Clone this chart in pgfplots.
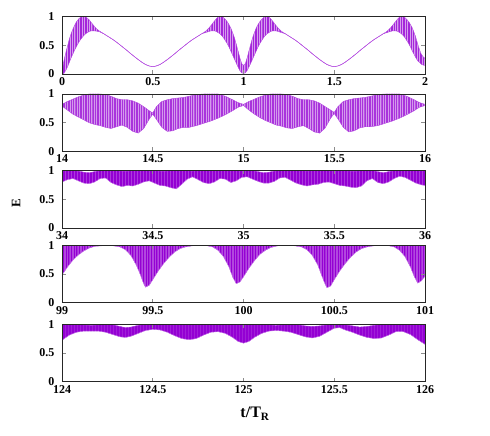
\documentclass[border=0pt]{standalone}
\usepackage{fontspec}
\setmainfont{Liberation Serif}
\usepackage{pgfplots}
\pgfplotsset{compat=1.18}
\usepackage{pgfplotstable}
\usepgfplotslibrary{fillbetween}
\usetikzlibrary{patterns.meta}
\definecolor{dv}{RGB}{148,0,211}

% envelopes (upper / lower) of the fast oscillation
\pgfplotstableread{
x up lo
0.00 0.00 0.00
0.01 0.22 0.01
0.02 0.36 0.06
0.03 0.48 0.12
0.04 0.60 0.20
0.05 0.70 0.28
0.06 0.78 0.35
0.07 0.85 0.42
0.08 0.91 0.48
0.09 0.95 0.54
0.10 0.98 0.59
0.11 1.00 0.63
0.12 1.00 0.67
0.13 0.99 0.70
0.14 0.97 0.72
0.15 0.94 0.74
0.16 0.90 0.75
0.17 0.86 0.75
0.18 0.82 0.75
0.19 0.79 0.745
0.20 0.76 0.74
0.21 0.74 0.73
0.22 0.72 0.715
0.23 0.70 0.70
0.25 0.66 0.66
0.28 0.60 0.60
0.30 0.555 0.555
0.33 0.48 0.48
0.35 0.43 0.43
0.38 0.35 0.35
0.40 0.30 0.30
0.42 0.25 0.25
0.44 0.205 0.205
0.46 0.165 0.165
0.48 0.14 0.14
0.50 0.128 0.128
0.52 0.14 0.14
0.54 0.165 0.165
0.56 0.205 0.205
0.58 0.25 0.25
0.60 0.30 0.30
0.62 0.35 0.35
0.65 0.43 0.43
0.67 0.48 0.48
0.70 0.555 0.555
0.72 0.60 0.60
0.75 0.66 0.66
0.77 0.70 0.70
0.78 0.72 0.71
0.79 0.74 0.72
0.80 0.77 0.73
0.81 0.80 0.74
0.82 0.84 0.75
0.83 0.88 0.75
0.84 0.92 0.75
0.85 0.96 0.74
0.86 0.99 0.72
0.87 1.00 0.70
0.88 1.00 0.67
0.89 0.98 0.63
0.90 0.95 0.58
0.91 0.91 0.53
0.92 0.86 0.47
0.93 0.80 0.40
0.94 0.72 0.33
0.95 0.63 0.26
0.96 0.52 0.19
0.97 0.40 0.12
0.98 0.28 0.06
0.99 0.18 0.02
1.00 0.15 0.01
1.01 0.18 0.02
1.02 0.28 0.06
1.03 0.40 0.12
1.04 0.52 0.19
1.05 0.63 0.26
1.06 0.72 0.33
1.07 0.80 0.40
1.08 0.86 0.47
1.09 0.91 0.53
1.10 0.95 0.58
1.11 0.98 0.63
1.12 1.00 0.67
1.13 1.00 0.70
1.14 0.99 0.72
1.15 0.96 0.74
1.16 0.92 0.75
1.17 0.88 0.75
1.18 0.84 0.75
1.19 0.80 0.74
1.20 0.77 0.73
1.21 0.74 0.72
1.22 0.72 0.71
1.23 0.70 0.70
1.25 0.66 0.66
1.28 0.60 0.60
1.30 0.555 0.555
1.33 0.48 0.48
1.35 0.43 0.43
1.38 0.35 0.35
1.40 0.30 0.30
1.42 0.25 0.25
1.44 0.205 0.205
1.46 0.165 0.165
1.48 0.14 0.14
1.50 0.128 0.128
1.52 0.14 0.14
1.54 0.165 0.165
1.56 0.205 0.205
1.58 0.25 0.25
1.60 0.30 0.30
1.62 0.35 0.35
1.65 0.43 0.43
1.67 0.48 0.48
1.70 0.555 0.555
1.72 0.60 0.60
1.75 0.66 0.66
1.77 0.70 0.70
1.78 0.72 0.71
1.79 0.74 0.72
1.80 0.77 0.73
1.81 0.80 0.74
1.82 0.84 0.75
1.83 0.88 0.75
1.84 0.92 0.75
1.85 0.96 0.74
1.86 0.99 0.72
1.87 1.00 0.70
1.88 1.00 0.67
1.89 0.98 0.63
1.90 0.95 0.58
1.91 0.91 0.53
1.92 0.86 0.47
1.93 0.80 0.40
1.94 0.72 0.34
1.95 0.63 0.28
1.96 0.52 0.23
1.97 0.42 0.20
1.98 0.34 0.17
1.99 0.30 0.155
2.00 0.27 0.15
}\pa

\pgfplotstableread{
x up lo
14.00 0.82 0.79
14.03 0.87 0.72
14.06 0.91 0.65
14.09 0.95 0.60
14.12 0.98 0.55
14.15 1.00 0.50
14.18 1.00 0.47
14.21 1.00 0.45
14.24 0.99 0.42
14.27 0.96 0.40
14.30 0.92 0.43
14.33 0.90 0.46
14.36 0.90 0.42
14.39 0.88 0.35
14.42 0.84 0.32
14.45 0.78 0.40
14.48 0.71 0.56
14.50 0.67 0.65
14.52 0.78 0.56
14.55 0.87 0.42
14.58 0.90 0.35
14.61 0.92 0.36
14.64 0.93 0.40
14.67 0.94 0.42
14.70 0.96 0.42
14.74 0.99 0.45
14.78 1.00 0.49
14.82 1.00 0.53
14.86 1.00 0.58
14.90 0.96 0.64
14.94 0.90 0.71
14.97 0.85 0.77
15.00 0.82 0.80
15.03 0.87 0.72
15.06 0.91 0.65
15.09 0.95 0.59
15.12 0.98 0.54
15.15 1.00 0.50
15.18 1.00 0.46
15.21 1.00 0.44
15.24 0.99 0.41
15.27 0.96 0.40
15.30 0.92 0.43
15.33 0.90 0.45
15.36 0.90 0.40
15.39 0.88 0.34
15.42 0.84 0.32
15.45 0.78 0.41
15.48 0.72 0.58
15.50 0.68 0.66
15.52 0.78 0.57
15.55 0.87 0.42
15.58 0.90 0.34
15.61 0.92 0.36
15.64 0.93 0.41
15.67 0.94 0.43
15.70 0.96 0.43
15.74 0.99 0.45
15.78 1.00 0.49
15.82 1.00 0.53
15.86 1.00 0.58
15.90 0.96 0.64
15.94 0.90 0.71
15.97 0.85 0.77
16.00 0.82 0.80
}\pb

\pgfplotstableread{
x up lo
34.00 0.99 0.80
34.03 1.00 0.84
34.06 1.00 0.86
34.09 0.99 0.82
34.12 0.97 0.78
34.15 0.96 0.77
34.18 0.98 0.80
34.21 1.00 0.86
34.24 1.00 0.87
34.27 1.00 0.79
34.30 1.00 0.75
34.33 0.99 0.72
34.36 0.99 0.74
34.39 1.00 0.73
34.42 1.00 0.76
34.45 1.00 0.80
34.48 1.00 0.82
34.51 1.00 0.78
34.54 0.99 0.74
34.57 0.99 0.73
34.60 1.00 0.70
34.63 1.00 0.68
34.66 1.00 0.76
34.69 1.00 0.85
34.72 0.99 0.89
34.75 1.00 0.84
34.78 1.00 0.79
34.81 1.00 0.77
34.84 1.00 0.80
34.87 1.00 0.86
34.90 1.00 0.85
34.93 1.00 0.79
34.96 1.00 0.82
34.99 1.00 0.88
35.02 1.00 0.89
35.05 1.00 0.85
35.08 0.98 0.81
35.11 0.96 0.78
35.14 0.97 0.78
35.17 0.99 0.81
35.20 1.00 0.87
35.23 1.00 0.88
35.26 1.00 0.83
35.29 1.00 0.78
35.32 1.00 0.75
35.35 0.99 0.73
35.38 1.00 0.75
35.41 1.00 0.76
35.44 1.00 0.79
35.47 1.00 0.80
35.50 1.00 0.77
35.53 1.00 0.74
35.56 1.00 0.73
35.59 0.99 0.71
35.62 0.99 0.70
35.65 1.00 0.73
35.68 1.00 0.82
35.71 1.00 0.86
35.74 0.98 0.79
35.77 0.96 0.77
35.80 0.98 0.80
35.83 1.00 0.86
35.86 1.00 0.90
35.89 1.00 0.88
35.92 1.00 0.83
35.95 1.00 0.78
35.98 1.00 0.75
36.00 1.00 0.74
}\pc

\pgfplotstableread{
x up lo
99.00 1.00 0.48
99.03 1.00 0.62
99.06 1.00 0.74
99.09 1.00 0.83
99.12 1.00 0.90
99.15 1.00 0.95
99.18 1.00 0.98
99.22 1.00 0.99
99.28 1.00 0.99
99.32 1.00 0.97
99.35 1.00 0.92
99.38 1.00 0.82
99.41 1.00 0.65
99.43 1.00 0.50
99.45 1.00 0.33
99.46 1.00 0.27
99.48 1.00 0.30
99.50 1.00 0.40
99.53 1.00 0.55
99.56 1.00 0.68
99.59 1.00 0.79
99.62 1.00 0.88
99.65 1.00 0.94
99.68 1.00 0.97
99.72 1.00 0.99
99.80 1.00 0.99
99.83 1.00 0.97
99.86 1.00 0.91
99.89 1.00 0.80
99.92 1.00 0.62
99.94 1.00 0.45
99.96 1.00 0.33
99.98 1.00 0.36
100.00 1.00 0.45
100.03 1.00 0.60
100.06 1.00 0.73
100.09 1.00 0.84
100.12 1.00 0.91
100.15 1.00 0.96
100.19 1.00 0.99
100.28 1.00 0.99
100.32 1.00 0.97
100.35 1.00 0.92
100.38 1.00 0.82
100.41 1.00 0.65
100.43 1.00 0.48
100.45 1.00 0.32
100.46 1.00 0.26
100.48 1.00 0.29
100.50 1.00 0.40
100.53 1.00 0.55
100.56 1.00 0.68
100.59 1.00 0.79
100.62 1.00 0.88
100.65 1.00 0.94
100.68 1.00 0.97
100.72 1.00 0.99
100.80 1.00 0.99
100.83 1.00 0.97
100.86 1.00 0.91
100.89 1.00 0.80
100.92 1.00 0.62
100.94 1.00 0.46
100.96 1.00 0.34
100.98 1.00 0.38
101.00 1.00 0.46
}\pd

\pgfplotstableread{
x up lo
124.00 1.00 0.72
124.04 1.00 0.81
124.08 1.00 0.86
124.12 0.99 0.88
124.16 0.98 0.88
124.20 0.99 0.88
124.24 1.00 0.86
124.28 0.99 0.82
124.32 0.96 0.78
124.35 0.94 0.77
124.38 0.95 0.79
124.42 0.98 0.84
124.46 1.00 0.89
124.50 1.00 0.91
124.54 0.99 0.90
124.58 1.00 0.86
124.62 1.00 0.80
124.66 1.00 0.75
124.70 1.00 0.73
124.74 1.00 0.75
124.78 1.00 0.81
124.82 1.00 0.86
124.86 1.00 0.87
124.90 1.00 0.84
124.94 1.00 0.77
124.97 1.00 0.70
125.00 1.00 0.67
125.03 1.00 0.70
125.06 1.00 0.77
125.10 1.00 0.84
125.14 0.99 0.88
125.18 0.98 0.89
125.22 0.99 0.88
125.26 1.00 0.86
125.30 0.99 0.82
125.34 0.97 0.78
125.38 0.96 0.76
125.42 0.97 0.79
125.46 0.99 0.86
125.50 1.00 0.93
125.53 1.00 0.94
125.56 0.99 0.90
125.60 0.97 0.86
125.64 0.95 0.81
125.68 0.96 0.77
125.72 0.98 0.75
125.76 1.00 0.76
125.80 1.00 0.81
125.84 1.00 0.87
125.88 1.00 0.87
125.92 1.00 0.82
125.96 1.00 0.73
126.00 1.00 0.65
}\pe

\pgfplotsset{
  panel/.style={
    scale only axis, width=363pt, height=57.5pt,
    anchor=south west,
    ymin=0, ymax=1, ytick={0,0.5,1},
    axis on top,
    axis line style={line width=0.8pt, black!85},
    major tick style={line width=0.6pt, black!45},
    major tick length=4pt,
    scaled x ticks=false,
    /pgf/number format/assume math mode=true,
    tick label style={font=\fontsize{12}{12}\selectfont\bfseries},
    yticklabel style={xshift=-4pt},
    xticklabel style={/pgf/number format/fixed},
  },
  env/.style={dv!70, line width=0.4pt},
  envl/.style={dv!50, line width=0.4pt},
}

\begin{document}
\begin{tikzpicture}
\path (0,0) rectangle (490pt,436pt);

\begin{axis}[panel, at={(62pt,362pt)}, xmin=0, xmax=2, xtick={0,0.5,1,1.5,2}]
\addplot[env, name path=ua] table[x=x,y=up]{\pa};
\addplot[env, name path=la] table[x=x,y=lo]{\pa};
\addplot[fill=dv!38, draw=none] fill between[of=ua and la];
\addplot[pattern={Lines[angle=90,distance=1.7pt,line width=0.45pt]}, pattern color=dv!85, draw=none] fill between[of=ua and la];
\end{axis}

\begin{axis}[panel, at={(62pt,284.5pt)}, xmin=14, xmax=16, xtick={14,14.5,15,15.5,16}]
\addplot[env, name path=ub] table[x=x,y=up]{\pb};
\addplot[env, name path=lb] table[x=x,y=lo]{\pb};
\addplot[fill=dv!40, draw=none] fill between[of=ub and lb];
\addplot[pattern={Lines[angle=90,distance=1.7pt,line width=0.45pt]}, pattern color=dv!80, draw=none] fill between[of=ub and lb];
\end{axis}

\begin{axis}[panel, at={(62pt,208pt)}, xmin=34, xmax=36, xtick={34,34.5,35,35.5,36}]
\addplot[env, name path=uc] table[x=x,y=up]{\pc};
\addplot[envl, name path=lc] table[x=x,y=lo]{\pc};
\addplot[fill=dv!78, draw=none] fill between[of=uc and lc];
\addplot[pattern={Lines[angle=90,distance=1.5pt,line width=0.6pt]}, pattern color=dv, draw=none] fill between[of=uc and lc];
\end{axis}

\begin{axis}[panel, at={(62pt,133.3pt)}, xmin=99, xmax=101, xtick={99,99.5,100,100.5,101}]
\addplot[env, name path=ud] table[x=x,y=up]{\pd};
\addplot[envl, name path=ld] table[x=x,y=lo]{\pd};
\addplot[fill=dv, draw=none] fill between[of=ud and ld];
\addplot[pattern={Lines[angle=90,distance=1.6pt,line width=0.35pt]}, pattern color=dv!72, draw=none] fill between[of=ud and ld];
\end{axis}

\begin{axis}[panel, at={(62pt,54.3pt)}, xmin=124, xmax=126, xtick={124,124.5,125,125.5,126}]
\addplot[env, name path=ue] table[x=x,y=up]{\pe};
\addplot[envl, name path=le] table[x=x,y=lo]{\pe};
\addplot[fill=dv!88, draw=none] fill between[of=ue and le];
\addplot[pattern={Lines[angle=90,distance=1.5pt,line width=0.5pt]}, pattern color=dv, draw=none] fill between[of=ue and le];
\end{axis}

\node[rotate=90, font=\fontsize{13}{13}\selectfont\bfseries] at (16pt,233pt) {E};
\node[font=\fontsize{16}{16}\selectfont\bfseries] at (255pt,22pt) {t/T\textsubscript{R}};
\end{tikzpicture}
\end{document}
